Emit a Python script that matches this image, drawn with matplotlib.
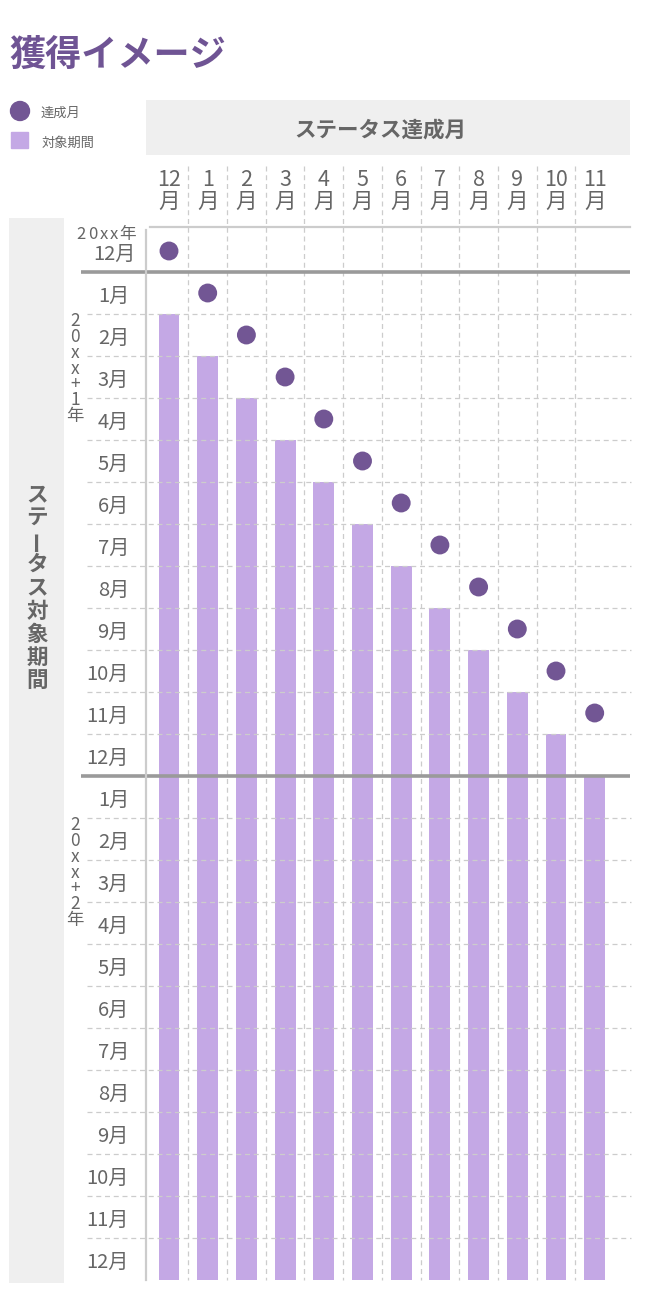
import matplotlib as mpl

mpl.use("Agg")
import matplotlib.pyplot as plt  # noqa: E402
from matplotlib.patches import Circle, Rectangle  # noqa: E402
from matplotlib.transforms import blended_transform_factory  # noqa: E402

plt.rcParams["font.family"] = ["Noto Sans CJK JP", "DejaVu Sans"]

PURPLE = "#725694"
LILAC = "#c4a8e5"
TEXT = "#666666"
BOX = "#efefef"
THICK = "#9a9a9a"
GRID = "#cccccc"

# achievement months (columns)
achieve_months = ["12", "1", "2", "3", "4", "5", "6", "7", "8", "9", "10", "11"]
# row index where each achievement month sits (the dot)
dot_rows = [0, 1, 2, 3, 4, 5, 6, 7, 8, 9, 10, 11]
# target period: first row / last row (exclusive) of each bar
bar_start = [2, 3, 4, 5, 6, 7, 8, 9, 10, 11, 12, 13]
bar_end = [25, 25, 25, 25, 25, 25, 25, 25, 25, 25, 25, 25]
# status target months (rows)
row_months = ["12月",
              "1月", "2月", "3月", "4月", "5月", "6月",
              "7月", "8月", "9月", "10月", "11月", "12月",
              "1月", "2月", "3月", "4月", "5月", "6月",
              "7月", "8月", "9月", "10月", "11月", "12月"]
year_breaks = [1, 13]
year_labels = ["20xx+1年", "20xx+2年"]

fig = plt.figure(figsize=(6.48, 12.93), dpi=100)
bg = fig.add_axes([0, 0, 1, 1])
bg.set_xlim(0, 648)
bg.set_ylim(1293, 0)
bg.axis("off")

# title + legend
bg.text(9, 55, "獲得イメージ", fontsize=26, fontweight="bold", color="#6f5494",
        ha="left", va="center")
bg.add_patch(Circle((20, 111), 9.5, color=PURPLE))
bg.text(41, 113, "達成月", fontsize=9.5, color=TEXT, va="center")
bg.add_patch(Rectangle((11, 132), 17, 16, color=LILAC))
bg.text(42, 143, "対象期間", fontsize=9.5, color=TEXT, va="center")

# header boxes
bg.add_patch(Rectangle((146, 100), 484, 55, color=BOX, lw=0))
bg.text(380, 130, "ステータス達成月", fontsize=15.5, fontweight="bold",
        color=TEXT, ha="center", va="center")
bg.add_patch(Rectangle((9, 218), 55, 1065, color=BOX, lw=0))
for k, ch in enumerate("ステータス対象期間"):
    bg.text(37, 495 + 23.2 * k, ch, fontsize=15.5, fontweight="bold",
            color=TEXT, ha="center", va="center",
            rotation=90 if ch == "ー" else 0)

# main grid axes: x = column index, y = row index
ax = fig.add_axes([146 / 648, 1 - 1283 / 1293, 484 / 648, 1123 / 1293])
ax.set_xlim((146 - 169) / 38.7, (630 - 169) / 38.7)
ax.set_ylim(1053 / 42, -70 / 42)
ax.axis("off")
tr = blended_transform_factory(bg.transData, ax.transData)

cols = list(range(len(achieve_months)))
heights = [e - s for s, e in zip(bar_start, bar_end)]
ax.bar(cols, heights, bottom=bar_start, width=0.54, color=LILAC, zorder=1)
ax.scatter(cols, [r + 0.5 for r in dot_rows], s=185, color=PURPLE,
           edgecolors="none", zorder=4)

# grid lines
n_rows = len(row_months)
ax.vlines([c + 0.5 for c in cols[:-1]], -1.52, n_rows, colors=GRID,
          lw=0.9, linestyles=(0, (4, 3)), zorder=2)
for r in range(2, n_rows):
    if r in year_breaks:
        continue
    ax.plot([87, 631], [r, r], transform=tr, color=GRID, lw=0.9,
            ls=(0, (4, 3)), clip_on=False, zorder=2)
for r in year_breaks:
    ax.plot([81, 630], [r, r], transform=tr, color=THICK, lw=2.6,
            clip_on=False, zorder=3, solid_capstyle="butt")
ax.plot([150, 630], [-0.07, -0.07], transform=tr, color=GRID, lw=1.6,
        clip_on=False, zorder=2)
ax.plot([146, 146], [0, n_rows], transform=tr, color=GRID, lw=1.6,
        clip_on=False, zorder=3)

# column labels
for c, m in zip(cols, achieve_months):
    ax.text(c, -1.2, m, fontsize=15.5, color=TEXT, ha="center", va="center")
    ax.text(c, -0.68, "月", fontsize=15.5, color=TEXT, ha="center", va="center")

# row labels
for r, lab in enumerate(row_months):
    ax.text(136 if r == 0 else 129, r + 0.57, lab, transform=tr,
            fontsize=14.5, color=TEXT, ha="right", va="center")
for x, ch in zip([81, 93, 104, 114, 127.5], "20xx年"):
    ax.text(x, 0.1, ch, transform=tr, fontsize=12, color=TEXT,
            ha="center", va="center")
# stacked year captions, one text each
for brk, lab in zip(year_breaks, year_labels):
    ax.text(75, brk + 2.3, "\n".join(lab), transform=tr, fontsize=12.5,
            color=TEXT, ha="center", va="center", linespacing=0.84,
            multialignment="center")

fig.savefig("out.png", dpi=100)
